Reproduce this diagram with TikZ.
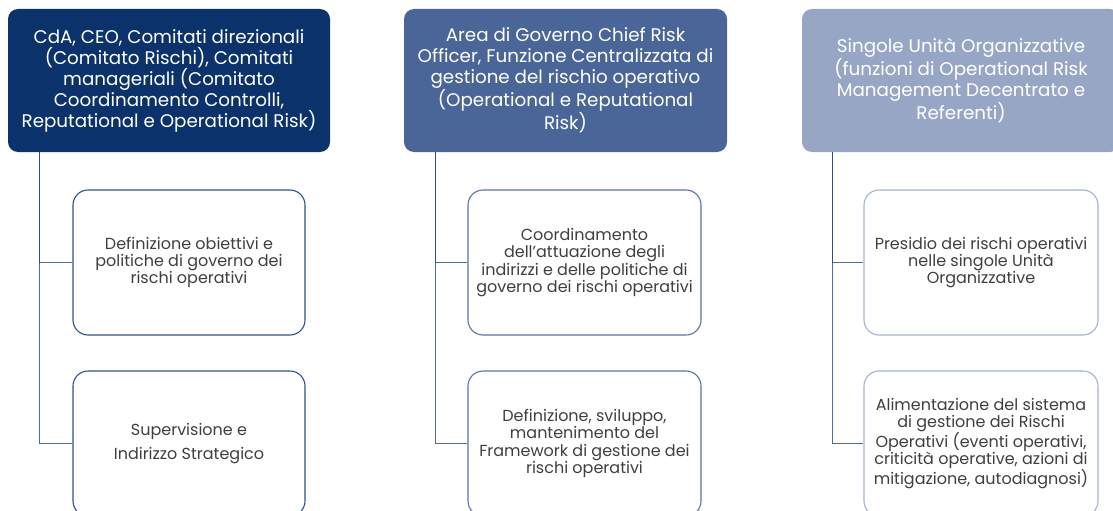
\documentclass[tikz,border=0pt]{standalone}
\usepackage{fontspec}
\setmainfont{Poppins}
\usetikzlibrary{calc}
\definecolor{topA}{HTML}{0B326B}
\definecolor{topB}{HTML}{4A6699}
\definecolor{topC}{HTML}{98A6C6}
\definecolor{brdA}{HTML}{2E5190}
\definecolor{brdB}{HTML}{5874A8}
\definecolor{brdC}{HTML}{A3B2D0}
\definecolor{lnk}{HTML}{24467F}
\definecolor{txt}{HTML}{3F3F3F}
\tikzset{
  topbox/.style={rectangle, rounded corners=10pt, inner sep=0pt, minimum width=#1, minimum height=143pt, text=white, align=center, font=\fontsize{18.3}{21}\selectfont},
  childbox/.style={rectangle, rounded corners=15pt, inner sep=0pt, draw=#1, line width=1.1pt, fill=white, minimum height=145pt, text=txt, align=center, font=\fontsize{16}{17.2}\selectfont},
  link/.style={draw=lnk, draw opacity=0.8, line width=1.3pt}
}
\begin{document}
\begin{tikzpicture}[x=1pt,y=-1pt]
\useasboundingbox (0,0) rectangle (1113,511);
% top boxes
\node[topbox=322pt, fill=topA] (t1) at (169,80.5) {CdA, CEO, Comitati direzionali\\(Comitato Rischi), Comitati\\manageriali (Comitato\\Coordinamento Controlli,\\Reputational e Operational Risk)};
\node[topbox=323pt, fill=topB] (t2) at (565.5,80.5) {Area di Governo Chief Risk\\Officer, Funzione Centralizzata di\\gestione del rischio operativo\\(Operational e Reputational\\Risk)};
\node[topbox=318pt, fill=topC] (t3) at (961,80.5) {Singole Unità Organizzative\\(funzioni di Operational Risk\\Management Decentrato e\\Referenti)};
% children
\node[childbox=brdA, minimum width=232pt] (c11) at (189,262.5) {Definizione obiettivi e\\politiche di governo dei\\rischi operativi};
\node[childbox=brdA, minimum width=232pt] (c12) at (189,443.5) {Supervisione e\\[7pt]Indirizzo Strategico};
\node[childbox=brdB, minimum width=233pt] (c21) at (584.5,262.5) {Coordinamento\\dell’attuazione degli\\indirizzi e delle politiche di\\governo dei rischi operativi};
\node[childbox=brdB, minimum width=233pt] (c22) at (584.5,443.5) {Definizione, sviluppo,\\mantenimento del\\Framework di gestione dei\\rischi operativi};
\node[childbox=brdC, minimum width=234pt] (c31) at (981,262.5) {Presidio dei rischi operativi\\nelle singole Unità\\Organizzative};
\node[childbox=brdC, minimum width=234pt] (c32) at (981,443.5) {Alimentazione del sistema\\di gestione dei Rischi\\Operativi (eventi operativi,\\criticità operative, azioni di\\mitigazione, autodiagnosi)};
% connectors
\draw[link] ($(t1.south west)+(32,0)$) |- (c11.west);
\draw[link] ($(t1.south west)+(32,0)$) |- (c12.west);
\draw[link] ($(t2.south west)+(32,0)$) |- (c21.west);
\draw[link] ($(t2.south west)+(32,0)$) |- (c22.west);
\draw[link] ($(t3.south west)+(31,0)$) |- (c31.west);
\draw[link] ($(t3.south west)+(31,0)$) |- (c32.west);
\end{tikzpicture}
\end{document}
